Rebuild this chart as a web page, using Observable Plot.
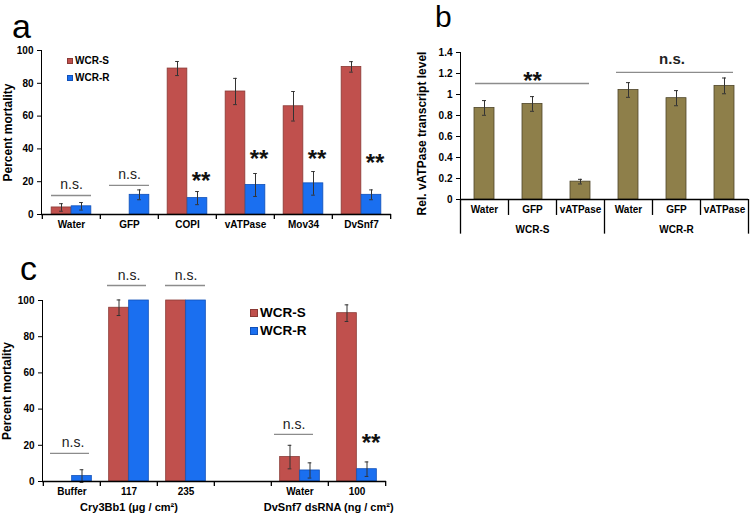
<!DOCTYPE html>
<html>
<head>
<meta charset="utf-8">
<script src="https://cdn.jsdelivr.net/npm/d3@7"></script>
<script src="https://cdn.jsdelivr.net/npm/@observablehq/plot@0.6"></script>
<style>
  body { margin: 0; background: #fff; font-family: "Liberation Sans", Arial, Helvetica, sans-serif; }
  #wrap { position: relative; width: 750px; height: 521px; overflow: hidden; background: #fff; }
  .panel { position: absolute; }
  .letter { position: absolute; font-size: 34px; line-height: 34px; color: #000; }
  .leg { position: absolute; font-weight: bold; white-space: nowrap; color: #000; }
  .sw { position: absolute; }
</style>
</head>
<body>
<div id="wrap"></div>
<script>
// ---------- Panel a data ----------
const catsA = ["Water", "GFP", "COPI", "vATPase", "Mov34", "DvSnf7"];
const mortS_A = [4.3, 0, 89, 75, 66, 90];
const errS_A = [2.3, 0, 4.3, 8, 9, 3.2];
const mortR_A = [5, 12, 10, 18, 19, 12];
const errR_A = [2.3, 3, 4, 7, 7.2, 3];
const sigA = ["n.s.", "n.s.", "**", "**", "**", "**"];
const sigTextYA = [18.3, 24.6, 24, 37.5, 37.5, 35];
const sigLineYA = [11.6, 17.7, null, null, null, null];

// ---------- Panel b data ----------
const groupsB = ["WCR-S", "WCR-S", "WCR-S", "WCR-R", "WCR-R", "WCR-R"];
const treatB = ["Water", "GFP", "vATPase", "Water", "GFP", "vATPase"];
const levelB = [0.872, 0.91, 0.17, 1.043, 0.965, 1.082];
const errB = [0.07, 0.07, 0.022, 0.07, 0.072, 0.075];
const sigGroupsB = ["WCR-S", "WCR-R"];
const sigB = ["**", "n.s."];
const sigTextYB = [1.18, 1.34];
const sigLineYB = [1.105, 1.21];

// ---------- Panel c data ----------
const catsC = ["Buffer", "117", "235", " ", "Water", "100"];
const mortS_C = [0, 96, 100, 0, 13.5, 93];
const errS_C = [0, 4.3, 0, 0, 6.5, 4.6];
const mortR_C = [3, 100, 100, 0, 6.1, 6.8];
const errR_C = [3.5, 0, 0, 0, 4.2, 4];
const sigC = ["n.s.", "n.s.", "n.s.", "", "n.s.", "**"];
const sigTextYC = [21.5, 113.8, 113.8, null, 31.5, 24.3];
const sigLineYC = [15.5, 108.3, 108.3, null, 26, null];
const groupLabelsC = ["Cry3Bb1 (μg / cm²)", "DvSnf7 dsRNA (ng / cm²)"];
const groupAnchorC = ["117", "Water"];
const seriesNames = ["WCR-S", "WCR-R"];

// ---------- styles ----------
const RED = "#c0504d", RED_EDGE = "#8a3a36";
const BLUE = "#1a6ff0", BLUE_EDGE = "#1050b8";
const OLIVE = "#8e7f4a", OLIVE_EDGE = "#4e4529";
const ERR = "#333";
const ANN = "#8c8c8c";
const FONT = "'Liberation Sans', Arial, Helvetica, sans-serif";

const wrap = document.getElementById("wrap");
function place(node, left, top) {
  const d = document.createElement("div");
  d.className = "panel";
  d.style.left = left + "px";
  d.style.top = top + "px";
  d.appendChild(node);
  wrap.appendChild(d);
}

function groupedPanel(cfg) {
  const {cats, sVals, sErr, rVals, rErr, sig, sigTextY, sigLineY, width, height,
         mt, mr, mb, ml, yMax, tickLen, yLabel, yLabelDx, nsLineInset, nsDx, starDx, extra} = cfg;
  const bw = (width - ml - mr) / cats.length;
  const barW = 20;
  const pad = bw / 2 - barW;
  const rows = cats.map((c, i) => ({cat: c, s: sVals[i], es: sErr[i], r: rVals[i], er: rErr[i],
    sig: sig[i], ty: sigTextY[i], ly: sigLineY[i]}));
  const sErrRows = rows.filter(d => d.es > 0);
  const rErrRows = rows.filter(d => d.er > 0);
  const nsLines = rows.filter(d => d.ly != null);
  const nsTexts = rows.filter(d => d.sig === "n.s.");
  const stars = rows.filter(d => d.sig === "**");
  const marks = [
    Plot.barY(rows.filter(d => d.s > 0), {x: "cat", y: "s", fill: RED, stroke: RED_EDGE, strokeWidth: 0.8,
      insetLeft: pad, insetRight: bw - pad - barW}),
    Plot.barY(rows.filter(d => d.r > 0), {x: "cat", y: "r", fill: BLUE, stroke: BLUE_EDGE, strokeWidth: 0.8,
      insetLeft: pad + barW, insetRight: pad}),
    Plot.ruleX(sErrRows, {x: "cat", y1: d => d.s - d.es, y2: d => d.s + d.es, dx: -10, stroke: ERR, strokeWidth: 1}),
    Plot.ruleX(rErrRows, {x: "cat", y1: d => d.r - d.er, y2: d => d.r + d.er, dx: 10, stroke: ERR, strokeWidth: 1}),
    Plot.tickY(sErrRows, {x: "cat", y: d => d.s + d.es, insetLeft: bw / 2 - 12, insetRight: bw / 2 + 8, stroke: ERR}),
    Plot.tickY(sErrRows, {x: "cat", y: d => d.s - d.es, insetLeft: bw / 2 - 12, insetRight: bw / 2 + 8, stroke: ERR}),
    Plot.tickY(rErrRows, {x: "cat", y: d => d.r + d.er, insetLeft: bw / 2 + 8, insetRight: bw / 2 - 12, stroke: ERR}),
    Plot.tickY(rErrRows, {x: "cat", y: d => d.r - d.er, insetLeft: bw / 2 + 8, insetRight: bw / 2 - 12, stroke: ERR}),
    Plot.ruleY([0], {stroke: "#000", strokeWidth: 1.3}),
    Plot.ruleX(cats, {x: d => d, dx: -bw / 2, y1: 0, y2: -tickLen, stroke: "#000", strokeWidth: 1.3}),
    Plot.ruleX([cats[cats.length - 1]], {x: d => d, dx: bw / 2, y1: 0, y2: -tickLen, stroke: "#000", strokeWidth: 1.3}),
    ...nsLines.map(d => {
      const [il, ir] = nsLineInset(d.cat);
      return Plot.ruleY([d], {x1: "cat", x2: "cat", y: "ly", insetLeft: il, insetRight: ir, stroke: ANN, strokeWidth: 1.3});
    }),
    ...nsTexts.map(d => Plot.text([d], {x: "cat", y: "ty", text: "sig", dx: nsDx(d.cat), fontSize: 14,
      fontWeight: "normal", fill: "#222"})),
    Plot.text(stars, {x: "cat", y: "ty", text: "sig", dx: starDx, dy: 6, fontSize: 24, fontWeight: "bold", fill: "#111"}),
    Plot.text([yLabel], {frameAnchor: "left", textAnchor: "middle", dx: yLabelDx, rotate: -90, fontSize: 12, fontWeight: "bold"}),
    ...(extra || [])
  ];
  return Plot.plot({
    width, height, marginTop: mt, marginRight: mr, marginBottom: mb, marginLeft: ml,
    style: {fontFamily: FONT, fontSize: "10px", fontWeight: "bold", color: "#000", background: "transparent", overflow: "visible"},
    x: {domain: cats, padding: 0, tickSize: 0, tickPadding: 6, label: null},
    y: {domain: [0, yMax], ticks: 5, tickSize: 4, tickPadding: 4, line: true, label: null},
    marks
  });
}

// ---------- Panel a ----------
const plotA = groupedPanel({
  cats: catsA, sVals: mortS_A, sErr: errS_A, rVals: mortR_A, rErr: errR_A,
  sig: sigA, sigTextY: sigTextYA, sigLineY: sigLineYA,
  width: 395, height: 240, mt: 50, mr: 4, mb: 26, ml: 41, yMax: 100, tickLen: 3,
  yLabel: "Percent mortality", yLabelDx: -33,
  nsLineInset: () => [9, 9], nsDx: () => 0, starDx: 13.5
});
place(plotA, 0, 0);

// ---------- Panel c ----------
const bwC = (390 - 42 - 4) / catsC.length;
const plotC = groupedPanel({
  cats: catsC, sVals: mortS_C, sErr: errS_C, rVals: mortR_C, rErr: errR_C,
  sig: sigC, sigTextY: sigTextYC, sigLineY: sigLineYC,
  width: 390, height: 261, mt: 40, mr: 4, mb: 40, ml: 42, yMax: 100, tickLen: 2.8,
  yLabel: "Percent mortality", yLabelDx: -35,
  nsLineInset: c => c === "Water" ? [3, 15] : c === "235" ? [8, 9] : [7, 11],
  nsDx: c => c === "Water" ? -6 : c === "Buffer" ? 1 : 0,
  starDx: 14,
  extra: [
    Plot.text(groupLabelsC.map((t, i) => ({t, cat: groupAnchorC[i]})).slice(0, 1),
      {x: "cat", y: () => -14.4, text: "t", fontSize: 11, fontWeight: "bold"}),
    Plot.text(groupLabelsC.map((t, i) => ({t, cat: groupAnchorC[i]})).slice(1),
      {x: "cat", y: () => -14.4, text: "t", dx: bwC / 2, fontSize: 11, fontWeight: "bold"})
  ]
});
place(plotC, 0, 260);

// ---------- Panel b ----------
const rowsB = groupsB.map((g, i) => ({key: g + "|" + treatB[i], group: g, treat: treatB[i], v: levelB[i], e: errB[i]}));
const keysB = rowsB.map(d => d.key);
const bwB = (350 - 60 - 2) / keysB.length;
const sigRowsB = sigGroupsB.map((g, i) => ({
  group: g, sig: sigB[i], ty: sigTextYB[i], ly: sigLineYB[i],
  first: rowsB.filter(d => d.group === g)[0].key,
  mid: rowsB.filter(d => d.group === g)[1].key,
  last: rowsB.filter(d => d.group === g).slice(-1)[0].key
}));
const plotB = Plot.plot({
  width: 350, height: 250, marginTop: 52, marginRight: 2, marginBottom: 51, marginLeft: 60,
  style: {fontFamily: FONT, fontSize: "10px", fontWeight: "bold", color: "#000", background: "transparent", overflow: "visible"},
  x: {domain: keysB, padding: 0, tickSize: 0, tickPadding: 6, tickFormat: k => k.split("|")[1], label: null},
  y: {domain: [0, 1.4], ticks: 7, tickFormat: d3.format("~g"), tickSize: 4, tickPadding: 4, line: true, label: null},
  marks: [
    Plot.barY(rowsB, {x: "key", y: "v", fill: OLIVE, stroke: OLIVE_EDGE, strokeWidth: 0.8,
      insetLeft: bwB / 2 - 10, insetRight: bwB / 2 - 10}),
    Plot.ruleX(rowsB, {x: "key", y1: d => d.v - d.e, y2: d => d.v + d.e, stroke: ERR, strokeWidth: 1}),
    Plot.tickY(rowsB, {x: "key", y: d => d.v + d.e, insetLeft: bwB / 2 - 2, insetRight: bwB / 2 - 2, stroke: ERR}),
    Plot.tickY(rowsB, {x: "key", y: d => d.v - d.e, insetLeft: bwB / 2 - 2, insetRight: bwB / 2 - 2, stroke: ERR}),
    Plot.ruleY([0], {stroke: "#000", strokeWidth: 1.3}),
    Plot.ruleX(rowsB.filter(d => d.treat !== "Water"), {x: "key", dx: -bwB / 2, y1: 0, y2: -0.152, stroke: "#000", strokeWidth: 1.3}),
    Plot.ruleX(rowsB.filter(d => d.treat === "Water"), {x: "key", dx: -bwB / 2, y1: 0, y2: -0.33, stroke: "#000", strokeWidth: 1.3}),
    Plot.ruleX([keysB[keysB.length - 1]], {x: d => d, dx: bwB / 2, y1: 0, y2: -0.33, stroke: "#000", strokeWidth: 1.3}),
    Plot.text(sigRowsB, {x: "mid", y: () => -0.286, text: "group", fontSize: 10, fontWeight: "bold"}),
    Plot.ruleY(sigRowsB.slice(0, 1), {x1: "first", x2: "last", y: "ly", insetLeft: 15, insetRight: 15, stroke: ANN, strokeWidth: 1.3}),
    Plot.ruleY(sigRowsB.slice(1), {x1: "first", x2: "last", y: "ly", insetLeft: 12, insetRight: 15, stroke: ANN, strokeWidth: 1.3}),
    Plot.text(sigRowsB.filter(d => d.sig === "**"), {x: "mid", y: "ty", text: "sig", dy: 6, fontSize: 24, fontWeight: "bold", fill: "#111"}),
    Plot.text(sigRowsB.filter(d => d.sig === "n.s."), {x: "mid", y: "ty", text: "sig", dx: -4.5, fontSize: 15, fontWeight: "bold", fill: "#222"}),
    Plot.text(["Rel. vATPase transcript level"], {frameAnchor: "left", textAnchor: "middle", dx: -38, dy: 7.5, rotate: -90, fontSize: 12, fontWeight: "bold"})
  ]
});
place(plotB, 400, 0);

// ---------- Panel letters ----------
[["a", 12, 9, 34], ["b", 435, 2, 30], ["c", 20, 251, 34]].forEach(([t, x, y, fs]) => {
  const d = document.createElement("div");
  d.className = "letter";
  d.textContent = t;
  d.style.left = x + "px";
  d.style.top = y + "px";
  d.style.fontSize = fs + "px";
  d.style.lineHeight = fs + "px";
  wrap.appendChild(d);
});

// ---------- Legends ----------
function legend(x, y, sq, fs, gap) {
  [RED, BLUE].forEach((col, i) => {
    const cy = y + i * gap;
    const s = document.createElement("div");
    s.className = "sw";
    s.style.cssText += `left:${x}px;top:${cy - sq / 2}px;width:${sq}px;height:${sq}px;background:${col};box-sizing:border-box;border:1px solid ${i ? BLUE_EDGE : RED_EDGE};`;
    wrap.appendChild(s);
    const t = document.createElement("div");
    t.className = "leg";
    t.textContent = seriesNames[i];
    t.style.fontSize = fs + "px";
    t.style.lineHeight = fs + "px";
    t.style.left = (x + sq + 2) + "px";
    t.style.top = (cy - fs / 2) + "px";
    wrap.appendChild(t);
  });
}
legend(67, 61, 6, 10, 17);
legend(250, 313, 8, 13.5, 18);
</script>
</body>
</html>
